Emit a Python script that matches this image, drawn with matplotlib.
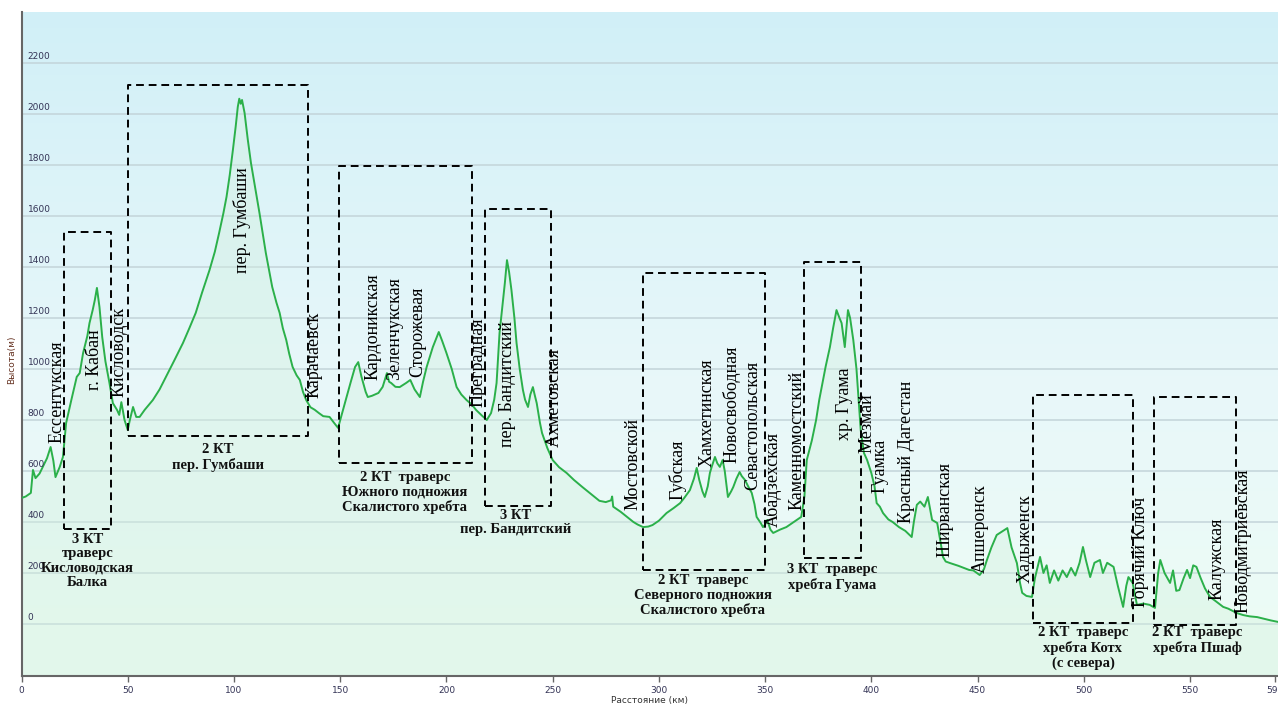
import numpy as np
import matplotlib
matplotlib.use("Agg")
import matplotlib.pyplot as plt

# elevation profile (distance km, height m)
dist = [0, 2, 4.4, 5.4, 6.6, 8.5, 10, 12, 13.7, 15, 16, 18, 19.5, 21, 23.5, 26, 27.4, 29, 31, 32,
        33.5, 34.5, 35.5, 36.7, 38, 39.5, 41.4, 43, 45, 46, 47, 48.5, 50, 51, 52.5, 54, 55.6, 58,
        61.8, 65, 68, 72, 76, 79, 82, 85, 88.5, 91, 93, 95, 96.5, 98, 99.5, 100.8, 101.8, 102.5,
        103.2, 103.8, 105, 106.5, 108, 110, 112, 115, 118, 120, 121.5, 123, 124.6, 126, 127.6,
        129.5, 131, 132.5, 134, 136, 138, 140, 142, 145, 147, 149, 151, 153, 155, 157, 158.5, 160,
        162, 163, 165, 168, 170, 172, 173, 174, 176, 178, 181, 183, 185, 187.5, 189, 190.7, 193.6,
        196.4, 198, 200, 202.5, 204.8, 207, 209.5, 212, 214, 217, 219, 221, 222.5, 223.6, 225,
        226.5, 227.5, 228.5, 229.5, 230.6, 232, 233, 234.5, 236, 237, 238.4, 239.5, 240.7, 241.5,
        242.5, 244, 245, 247.5, 250, 253, 256.6, 260, 264, 268, 272, 275, 277.5, 278, 278.5, 282,
        285, 288, 290, 292.6, 295, 297, 300, 303.6, 307, 310, 312, 314.6, 316.5, 317.8, 319, 320.5,
        321.6, 323, 324, 325, 326.4, 327.5, 328.7, 330, 331, 332.5, 334, 335, 336.5, 338, 339,
        340.5, 342, 343.7, 345, 346, 348, 349, 350, 351, 352.5, 353.8, 357, 360, 363.5, 367, 368.5,
        369.6, 372, 374, 375.5, 377, 378.5, 380.5, 382, 383.6, 385, 386, 387.5, 388.5, 389, 390,
        391.5, 393, 394, 395, 396.5, 398, 400, 401.5, 402.5, 404, 405.5, 408, 410, 413, 416, 419,
        420, 421.4, 423, 425, 426.6, 428.6, 431, 433, 433.7, 435, 437, 441, 446, 448, 451, 453,
        454.4, 456.5, 459, 461, 464, 466, 468.5, 470, 471, 473, 475.6, 477, 479.4, 481, 482.5, 484,
        486, 488, 490, 492, 494, 496, 498, 499.6, 501, 503, 505, 507.6, 509, 511, 514, 516, 518.5,
        520, 521, 523, 525, 528, 531, 533.5, 535, 536, 538, 540.6, 542, 543.5, 545, 547, 548.6,
        550, 551.5, 553, 555, 557, 559.4, 562, 565.6, 568, 572, 575, 578, 581.6, 585, 588, 591.5]
elev = [494, 500, 514, 604, 572, 590, 616, 650, 694, 640, 576, 616, 655, 788, 880, 969, 984, 1063, 1130, 1180,
        1231, 1270, 1318, 1243, 1125, 1030, 945, 866, 839, 820, 870, 800, 761, 800, 851, 812, 812, 840,
        878, 920, 969, 1035, 1102, 1160, 1220, 1300, 1388, 1460, 1533, 1610, 1675, 1760, 1859, 1950, 2028, 2060,
        2040, 2055, 2004, 1900, 1808, 1710, 1612, 1455, 1322, 1260, 1220, 1160, 1114, 1060, 1008,
        975, 957, 910, 878, 850, 840, 827, 815, 812, 790, 769, 830, 890, 950, 1008, 1027, 970,
        910, 890, 895, 906, 930, 984, 950, 945, 930, 929, 945, 957, 920, 890, 950, 1008, 1086,
        1145, 1110, 1063, 1000, 929, 900, 878, 860, 839, 815, 800, 827, 880, 945, 1141,
        1260, 1337, 1427, 1380, 1310, 1200, 1102, 1000, 918, 880, 851, 900, 929, 900,
        866, 790, 749, 690, 643, 615, 592, 565, 537, 510, 483, 478, 485, 500, 460, 440,
        420, 400, 390, 380, 382, 388, 405, 435, 455, 474, 495, 525, 570, 612, 565, 520,
        498, 540, 592, 620, 655, 630, 616, 643, 600, 498, 520, 537, 570, 596, 580,
        565, 540, 514, 470, 420, 395, 380, 390, 408, 370, 357, 370, 380, 400, 420, 500,
        643, 720, 800, 880, 945, 1010, 1086, 1160, 1231, 1200, 1180, 1086, 1180, 1231, 1200,
        1114, 1000, 878, 760, 671, 643, 592, 540, 474, 460, 435, 410, 400, 380, 365, 341,
        400, 467, 480, 460, 498, 408, 396, 300, 263, 245, 239, 228, 212, 210, 192, 215,
        251, 300, 349, 360, 376, 300, 239, 160, 122, 110, 106, 180, 263, 200, 230, 161,
        210, 170, 210, 184, 220, 190, 240, 302, 250, 184, 240, 251, 200, 240, 224, 150, 67,
        150, 184, 161, 75, 80, 75, 63, 200, 251, 200, 161, 210, 130, 133, 180, 212,
        180, 230, 224, 180, 140, 106, 90, 67, 60, 43, 35, 30, 27, 20, 14, 8]

# settlements / passes (name, km, bottom of text in m)
places = ["Ессентукская", "г. Кабан", "Кисловодск", "пер. Гумбаши", "Карачаевск", "Кардоникская",
          "Зеленчукская", "Сторожевая", "Преградная", "пер. Бандитский", "Ахметовская", "Мостовской",
          "Губская", "Хамхетинская", "Новосвободная", "Севастопольская", "Абадзехская",
          "Каменномостский", "хр. Гуама", "Мезмай", "Гуамка", "Красный Дагестан", "Ширванская",
          "Апшеронск", "Хадыженск", "Горячий Ключ", "Калужская", "Новодмитриевская"]
place_km = [16.5, 34.4, 46.1, 103.6, 137.5, 165.3, 175.6, 186.5, 214.7, 228.9, 251.0, 287.7,
            308.9, 322.6, 334.3, 344.2, 353.6, 364.9, 387.5, 397.9, 404.0, 416.7, 434.6,
            451.1, 472.3, 526.5, 562.7, 575.0]
place_m = [710, 918, 890, 1376, 886, 957, 957, 969, 851, 694, 694, 447, 486, 616, 631, 525, 380,
           447, 722, 671, 514, 396, 263, 200, 161, 67, 94, 43]

# dashed boxes for the route sections: km from-to, m from-to
box_km = [(19.8, 41.9), (49.9, 134.7), (149.3, 211.9), (218.0, 249.1), (292.4, 349.9),
          (368.2, 395.1), (476.1, 523.2), (533.1, 571.7)]
box_m = [(373, 1537), (737, 2114), (631, 1796), (463, 1627), (212, 1376), (259, 1420), (4, 898), (-4, 890)]
box_text = ["3 КТ\nтраверс\nКисловодская\nБалка", "2 КТ\nпер. Гумбаши",
            "2 КТ  траверс\nЮжного подножия\nСкалистого хребта", "3 КТ\nпер. Бандитский",
            "2 КТ  траверс\nСеверного подножия\nСкалистого хребта", "3 КТ  траверс\nхребта Гуама",
            "2 КТ  траверс\nхребта Котх\n(с севера)", "2 КТ  траверс\nхребта Пшаф"]
box_text_km = [31.1, 92.3, 180.4, 232.6, 320.7, 381.4, 499.6, 553.3]
box_text_m = [357, 710, 600, 451, 196, 239, -8, -8]

yticks = list(range(0, 2400, 200))
xticks = [0, 50, 100, 150, 200, 250, 300, 350, 400, 450, 500, 550, 590]

fig = plt.figure(figsize=(12.78, 7.06), dpi=100)
ax = fig.add_axes([21.5 / 1278, 30 / 706, 1 - 21.5 / 1278, 664 / 706])
ax.set_xlim(0, 591.4)
ax.set_ylim(-204, 2400)

# background gradient, light blue on top to mint at the bottom
top = np.array([0.82, 0.94, 0.97])
mid = np.array([0.91, 0.97, 0.98])
bot = np.array([0.93, 0.99, 0.96])
t = np.linspace(0, 1, 256)[:, None]
grad = np.where(t < 0.55, top * (1 - t / 0.55) + mid * (t / 0.55),
                mid * (1 - (t - 0.55) / 0.45) + bot * ((t - 0.55) / 0.45))[:, None, :]
ax.imshow(grad, extent=[0, 1, 0, 1], transform=ax.transAxes, aspect="auto", zorder=0)

for v in yticks:
    ax.axhline(v, color="#c3d4d9", lw=1.1, zorder=1)
    ax.text(0.005, v + 6, str(v), transform=ax.get_yaxis_transform(), fontsize=6.5,
            color="#333355", va="bottom", ha="left", zorder=5)

ax.fill_between(dist, elev, -204, color="#d3f1de", alpha=0.4, lw=0, zorder=2)
ax.plot(dist, elev, color="#2bb04a", lw=1.4, zorder=3)

for (x0, x1), (y0, y1) in zip(box_km, box_m):
    ax.plot([x0, x1, x1, x0, x0], [y0, y0, y1, y1, y0], color="black", lw=1.4,
            ls=(0, (4, 2.5)), zorder=4)

for name, x, y in zip(places, place_km, place_m):
    ax.text(x, y, name, rotation=90, ha="center", va="bottom", fontsize=13,
            family="Liberation Serif", color="black", zorder=6)

for txt, x, y in zip(box_text, box_text_km, box_text_m):
    ax.text(x, y, txt, ha="center", va="top", fontsize=10.5, fontweight="bold",
            family="Liberation Serif", color="#111111", linespacing=1.15, zorder=6)

ax.set_yticks([])
ax.set_xticks(xticks)
ax.set_xticklabels([str(v) for v in xticks], fontsize=6.5, color="#333355")
ax.tick_params(axis="x", length=4, width=1, color="#666666", pad=3)
for s in ["top", "right"]:
    ax.spines[s].set_visible(False)
ax.spines["left"].set_color("#666666")
ax.spines["left"].set_linewidth(1.5)
ax.spines["bottom"].set_color("#666666")
ax.spines["bottom"].set_linewidth(1.5)
ax.set_xlabel("Расстояние (км)", fontsize=6.5, color="#333333", labelpad=1)
fig.text(12 / 1278, 1 - 360 / 706, "Высота(м)", rotation=90, fontsize=6.5, color="#663322",
         ha="center", va="center")

fig.savefig("out.png", dpi=100)
